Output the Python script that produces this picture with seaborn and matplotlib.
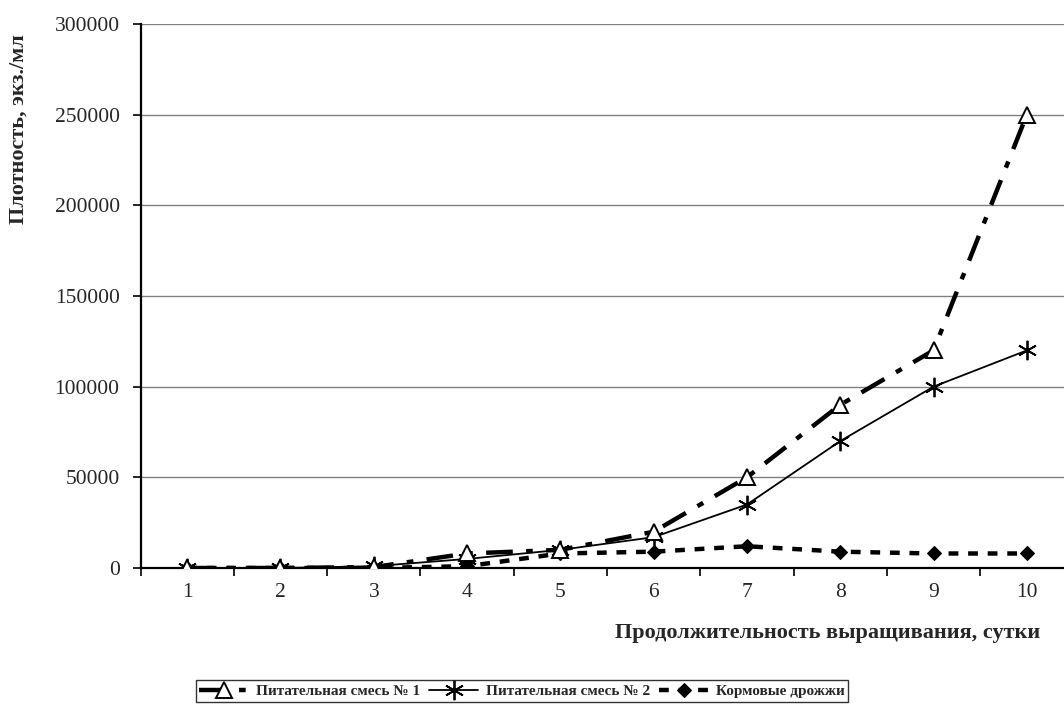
import matplotlib
matplotlib.use("Agg")
import matplotlib.pyplot as plt
import seaborn as sns
import numpy as np
import pandas as pd

days = [1, 2, 3, 4, 5, 6, 7, 8, 9, 10]
mix1 = [0, 0, 500, 8000, 10000, 20000, 50000, 90000, 120000, 250000]
mix2 = [0, 0, 1000, 5000, 10000, 17000, 35000, 70000, 100000, 120000]
yeast = [0, 0, 0, 1000, 8000, 9000, 12000, 9000, 8000, 8000]
series_names = ["Питательная смесь № 1", "Питательная смесь № 2", "Кормовые дрожжи"]
yticks = [0, 50000, 100000, 150000, 200000, 250000, 300000]

sns.set_style("white")
plt.rcParams['font.family'] = ['Liberation Serif', 'DejaVu Serif']

fig = plt.figure(figsize=(10.64, 7.04), dpi=100)
ax = fig.add_axes([140.5 / 1064, 136 / 704, 933 / 1064, 544 / 704])

df1 = pd.DataFrame({"x": days, "y": mix1})
df2 = pd.DataFrame({"x": days, "y": mix2})
df3 = pd.DataFrame({"x": days, "y": yeast})

sns.lineplot(data=df3, x="x", y="y", ax=ax, color="black", linewidth=3.2,
             linestyle=(0, (2.2, 2.2)), marker="D", markersize=7,
             markerfacecolor="black", markeredgecolor="black",
             label=series_names[2], zorder=3)
sns.lineplot(data=df2, x="x", y="y", ax=ax, color="black", linewidth=1.3,
             linestyle="-", marker=(6, 2, 0), markersize=14,
             markeredgewidth=1.3, markeredgecolor="black",
             label=series_names[1], zorder=4)
sns.lineplot(data=df1, x="x", y="y", ax=ax, color="black", linewidth=3.2,
             linestyle=(0, (6, 3, 1.5, 3)), marker="^", markersize=12,
             markerfacecolor="white", markeredgecolor="black", markeredgewidth=1.4,
             label=series_names[0], zorder=5)

ax.set_xlim(0.5, 10.5)
ax.set_ylim(0, 300000)
ax.set_yticks(yticks)
ax.set_yticklabels([str(v) for v in yticks], fontsize=15.5)
ax.set_xticks(days)
ax.set_xticklabels([str(d) for d in days], fontsize=15.5)
ax.set_xticks(np.arange(0.5, 11, 1), minor=True)
ax.tick_params(axis="x", which="major", length=0, pad=11)
ax.tick_params(axis="x", which="minor", length=6, width=1.2, color="black", direction="out", bottom=True)
ax.tick_params(axis="y", which="major", length=6, width=1.2, color="black", direction="out", left=True, pad=9)

ax.yaxis.grid(True, color="#808080", linewidth=1.0)
ax.xaxis.grid(False)
ax.set_axisbelow(True)
for s in ["top", "right"]:
    ax.spines[s].set_visible(False)
for s in ["left", "bottom"]:
    ax.spines[s].set_color("black")
    ax.spines[s].set_linewidth(1.6)

ax.set_ylabel("Плотность, экз./мл", fontsize=16, fontweight="bold")
ax.yaxis.set_label_coords(-0.1195, 0.807)
ax.set_xlabel("")
fig.text(1040 / 1064, 1 - 633 / 704, "Продолжительность выращивания, сутки",
         ha="right", va="center", fontsize=16, fontweight="bold")

handles, labels = ax.get_legend_handles_labels()
order = [2, 1, 0]
ax.legend().remove()
leg = fig.legend([handles[i] for i in order], [labels[i] for i in order],
                 loc="center", bbox_to_anchor=(522 / 1064, 1 - 691 / 704), ncol=3,
                 frameon=True, fancybox=False, edgecolor="black",
                 prop={"weight": "bold", "size": 11}, handlelength=3.2,
                 columnspacing=0.6, handletextpad=0.5, borderpad=0.25,
                 borderaxespad=0)
leg.get_frame().set_linewidth(1.0)

fig.savefig("out.png", dpi=100)
